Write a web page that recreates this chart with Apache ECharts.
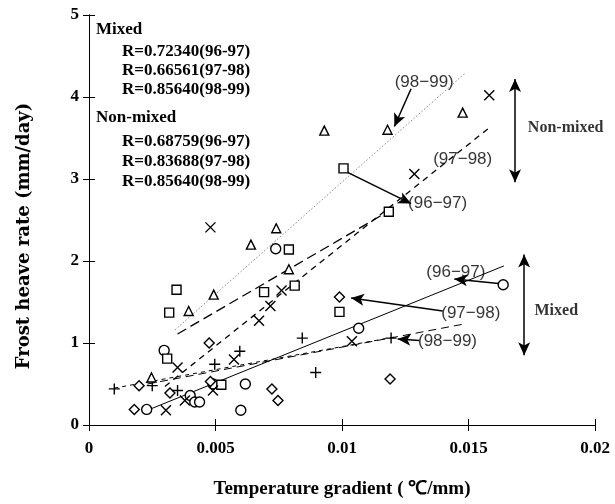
<!DOCTYPE html>
<html>
<head>
<meta charset="utf-8">
<script src="https://cdn.jsdelivr.net/npm/echarts@6/dist/echarts.min.js"></script>
<style>html,body{margin:0;padding:0;background:#fff;}#c{width:615px;height:504px;}</style>
</head>
<body>
<div id="c"></div>
<script>
// ---- tick labels ----
var xTickLabels = ['0', '0.005', '0.01', '0.015', '0.02'];
var yTickLabels = ['0', '1', '2', '3', '4', '5'];

// ---- Mixed soil data [temperature gradient, frost heave rate] ----
var mixed9697 = [[0.00738,2.15],[0.00297,0.91],[0.0040,0.36],[0.00418,0.28],[0.00437,0.28],[0.00228,0.19],[0.0060,0.18],[0.0049,0.50],[0.00618,0.50],[0.01066,1.18],[0.01637,1.71]];
var mixed9798 = [[0.00475,1.00],[0.00198,0.48],[0.0032,0.39],[0.00179,0.19],[0.00723,0.44],[0.00747,0.30],[0.0099,1.56],[0.0119,0.56],[0.0048,0.53]];
var mixed9899 = [[0.0010,0.44],[0.00497,0.74],[0.00596,0.90],[0.00843,1.06],[0.00896,0.64],[0.01194,1.06],[0.0035,0.42],[0.0025,0.48]];

// ---- Non-mixed soil data ----
var nonmixed9697 = [[0.00317,1.37],[0.00346,1.65],[0.00309,0.81],[0.00692,1.62],[0.00813,1.70],[0.0079,2.14],[0.01006,3.13],[0.01185,2.60],[0.0099,1.38],[0.00523,0.49]];
var nonmixed9798 = [[0.0048,2.41],[0.00761,1.64],[0.00717,1.45],[0.00672,1.27],[0.0035,0.70],[0.00573,0.80],[0.00379,0.30],[0.00304,0.18],[0.0049,0.42],[0.01039,1.02],[0.01286,3.06],[0.01582,4.02]];
var nonmixed9899 = [[0.0074,2.40],[0.0064,2.20],[0.0079,1.90],[0.00493,1.59],[0.00394,1.39],[0.00247,0.58],[0.0093,3.59],[0.0118,3.60],[0.01477,3.81]];

// ---- regression lines (end points) ----
var fitMixed9697 = [[0.00247,0.20],[0.0164,1.94]];
var fitMixed9798 = [[0.0018,0.47],[0.0148,1.23]];
var fitMixed9899 = [[0.0010,0.45],[0.0122,1.08]];
var fitNon9697 = [[0.0035,1.11],[0.0118,2.60]];
var fitNon9798 = [[0.0030,0.47],[0.0158,3.62]];
var fitNon9899 = [[0.0034,1.16],[0.0149,4.30]];

// ---- annotation labels [x, y, text] ----
var yearLabels = [[0.01325,4.18,'(98\u221299)'],[0.01477,3.24,'(97\u221298)'],[0.01378,2.70,'(96\u221297)'],
                  [0.01450,1.86,'(96\u221297)'],[0.01509,1.36,'(97\u221298)'],[0.01417,1.02,'(98\u221299)']];
var groupLabels = [[0.01884,3.62,'Non-mixed'],[0.01847,1.39,'Mixed']];
// arrows [[x1,y1],[x2,y2]]
var arrows = [[[0.01273,4.10],[0.01207,3.64]],[[0.0101,3.10],[0.01273,2.70]],
              [[0.01638,1.72],[0.01444,1.78]],[[0.01398,1.39],[0.01036,1.55]],[[0.01306,1.03],[0.0122,1.05]]];
var doubleArrows = [[[0.01684,4.22],[0.01684,2.96]],[[0.0172,2.08],[0.0172,0.85]]];
var legendLines = ['Mixed','R=0.72340(96-97)','R=0.66561(97-98)','R=0.85640(98-99)','Non-mixed','R=0.68759(96-97)','R=0.83688(97-98)','R=0.85640(98-99)'];
var yAxisTitle = 'Frost heave rate (mm/day)';
var xAxisTitle = 'Temperature gradient ( \u2103/mm)';

var serif = '"Liberation Serif", "Times New Roman", serif';
var crossPath = 'path://M0,0L10,10M10,0L0,10';
var plusPath = 'path://M5,0L5,10M0,5L10,5';

function scatter(name, data, symbol, size) {
  return {
    name: name, type: 'scatter', data: data, symbol: symbol, symbolSize: size,
    itemStyle: {color: (symbol.indexOf('path') === 0) ? 'transparent' : '#fff', borderColor: '#000', borderWidth: 1.4, opacity: 1},
    z: 5, silent: true
  };
}
function fit(data, type, color, width) {
  return {
    type: 'line', data: data, showSymbol: false, symbol: 'none', silent: true, z: 3,
    lineStyle: {color: color, width: width, type: type}
  };
}

var chart = echarts.init(document.getElementById('c'), null, {renderer: 'canvas'});
var axisLine = {show: true, lineStyle: {color: '#000', width: 1}};
var graphics = legendLines.map(function (t, i) {
  var tops = [21, 43, 62, 81, 109, 133, 153, 173];
  var indent = (t === 'Mixed' || t === 'Non-mixed') ? 96 : 122;
  return {type: 'text', left: indent, top: tops[i], silent: true,
    style: {text: t, font: 'bold 17px ' + serif, fill: '#000'}};
});
graphics.push({
  type: 'text', x: 24, y: 236, rotation: Math.PI / 2, silent: true,
  style: {text: yAxisTitle, font: 'bold 18px "DejaVu Serif", serif', fill: '#000',
    textAlign: 'center', textVerticalAlign: 'middle', align: 'center', verticalAlign: 'middle'}
});
var option = {
  animation: false,
  backgroundColor: '#fff',
  grid: {left: 89, right: 20, top: 15, bottom: 72, containLabel: false},
  xAxis: [{
    type: 'value', min: 0, max: 0.02, interval: 0.005, position: 'bottom',
    axisLine: axisLine, splitLine: {show: false},
    axisTick: {inside: true, length: 6, lineStyle: {color: '#000'}},
    axisLabel: {margin: 15, color: '#000', fontFamily: serif, fontWeight: 'bold', fontSize: 17,
      formatter: function (v, i) { return xTickLabels[i]; }},
    name: xAxisTitle, nameLocation: 'middle', nameGap: 55,
    nameTextStyle: {color: '#000', fontFamily: serif, fontWeight: 'bold', fontSize: 19}
  }, {
    type: 'value', min: 0, max: 0.02, interval: 0.005, position: 'top',
    axisLine: axisLine, splitLine: {show: false},
    axisTick: {inside: true, length: 6, lineStyle: {color: '#000'}},
    axisLabel: {show: false}
  }],
  yAxis: [{
    type: 'value', min: 0, max: 5, interval: 1, position: 'left',
    axisLine: axisLine, splitLine: {show: false},
    axisTick: {inside: true, length: 6, lineStyle: {color: '#000'}},
    axisLabel: {margin: 10, color: '#000', fontFamily: serif, fontWeight: 'bold', fontSize: 17,
      formatter: function (v, i) { return yTickLabels[i]; }}
  }, {
    type: 'value', min: 0, max: 5, interval: 1, position: 'right',
    axisLine: axisLine, splitLine: {show: false},
    axisTick: {inside: true, length: 6, lineStyle: {color: '#000'}},
    axisLabel: {show: false}
  }],
  graphic: graphics,
  series: [
    fit(fitMixed9697, 'solid', '#000', 1),
    fit(fitMixed9798, [8, 5], '#000', 1),
    fit(fitMixed9899, [4, 4], '#000', 1),
    fit(fitNon9697, [10, 5], '#000', 1.3),
    fit(fitNon9798, [6, 5], '#000', 1.3),
    fit(fitNon9899, [1.5, 2], '#888', 1),
    scatter('Mixed 96-97', mixed9697, 'circle', 10),
    scatter('Mixed 97-98', mixed9798, 'diamond', 10),
    scatter('Mixed 98-99', mixed9899, plusPath, 11),
    scatter('Non-mixed 96-97', nonmixed9697, 'rect', 9),
    scatter('Non-mixed 97-98', nonmixed9798, crossPath, 10),
    scatter('Non-mixed 98-99', nonmixed9899, 'triangle', 9),
    {
      type: 'scatter', data: yearLabels, symbolSize: 1, silent: true, z: 6,
      itemStyle: {color: 'transparent'},
      label: {show: true, position: 'inside', formatter: function (p) { return p.value[2]; },
        color: '#000', textBorderWidth: 0, fontFamily: '"Liberation Sans", Arial, sans-serif', fontSize: 17}
    },
    {
      type: 'scatter', data: groupLabels, symbolSize: 1, silent: true, z: 6,
      itemStyle: {color: 'transparent'},
      label: {show: true, position: 'inside', formatter: function (p) { return p.value[2]; },
        color: '#000', textBorderWidth: 0, fontFamily: serif, fontWeight: 'bold', fontSize: 16}
    },
    {
      type: 'line', data: [], silent: true, z: 7,
      markLine: {
        silent: true, animation: false, symbol: ['none', 'arrow'], symbolSize: [9, 13],
        label: {show: false},
        lineStyle: {color: '#000', width: 1.5, type: 'solid'},
        data: arrows.map(function (a) { return [{coord: a[0]}, {coord: a[1]}]; })
      }
    },
    {
      type: 'line', data: [], silent: true, z: 7,
      markLine: {
        silent: true, animation: false, symbol: ['arrow', 'arrow'], symbolSize: [9, 13],
        label: {show: false},
        lineStyle: {color: '#000', width: 1.5, type: 'solid'},
        data: doubleArrows.map(function (a) { return [{coord: a[0]}, {coord: a[1]}]; })
      }
    }
  ]
};
chart.setOption(option);
</script>
</body>
</html>
